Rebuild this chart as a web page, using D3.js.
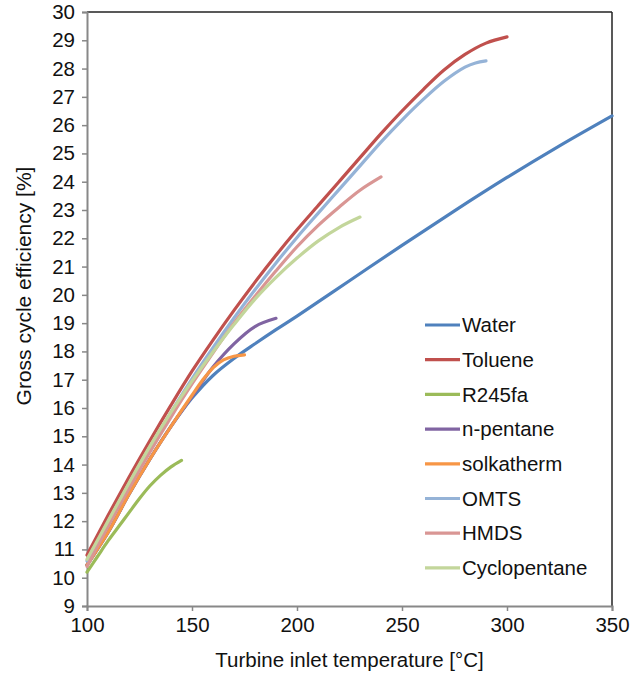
<!DOCTYPE html>
<html>
<head>
<meta charset="utf-8">
<script src="https://cdn.jsdelivr.net/npm/d3@7"></script>
<style>
    body { margin: 0; background: #fff; }
    svg text { font-family: "Liberation Sans", Arial, Helvetica, sans-serif; fill: #111; }
</style>
</head>
<body>
<svg id="chart" width="633" height="678"></svg>
<script>
// values
const seriesNames = ["Water", "Toluene", "R245fa", "n-pentane", "solkatherm", "OMTS", "HMDS", "Cyclopentane"];

const waterT = [100, 110, 120, 130, 140, 150, 160, 170, 180, 190, 200, 225, 250, 275, 300, 325, 350];
const waterEff = [10.45, 11.6, 12.95, 14.2, 15.35, 16.35, 17.15, 17.75, 18.27, 18.77, 19.25, 20.5, 21.75, 22.97, 24.15, 25.27, 26.33];

const tolueneT = [100, 110, 120, 130, 140, 150, 160, 170, 180, 190, 200, 210, 220, 230, 240, 250, 260, 270, 280, 290, 300];
const tolueneEff = [10.8, 12.2, 13.55, 14.85, 16.1, 17.3, 18.4, 19.45, 20.45, 21.4, 22.3, 23.15, 24.0, 24.85, 25.7, 26.5, 27.25, 27.95, 28.5, 28.9, 29.12];

const r245faT = [100, 105, 110, 115, 120, 125, 130, 135, 140, 145];
const r245faEff = [10.2, 10.75, 11.3, 11.8, 12.3, 12.8, 13.25, 13.62, 13.92, 14.15];

const pentaneT = [100, 110, 120, 130, 140, 150, 160, 170, 180, 190];
const pentaneEff = [10.45, 11.6, 12.95, 14.2, 15.35, 16.4, 17.45, 18.27, 18.88, 19.17];

const solkathermT = [100, 110, 120, 130, 140, 150, 155, 160, 165, 170, 175];
const solkathermEff = [10.45, 11.6, 12.95, 14.2, 15.35, 16.45, 16.98, 17.42, 17.7, 17.83, 17.88];

const omtsT = [100, 110, 120, 130, 140, 150, 160, 170, 180, 190, 200, 210, 220, 230, 240, 250, 260, 270, 280, 285, 290];
const omtsEff = [10.6, 11.95, 13.3, 14.6, 15.85, 17.03, 18.13, 19.18, 20.18, 21.13, 22.03, 22.88, 23.72, 24.56, 25.4, 26.18, 26.9, 27.55, 28.05, 28.2, 28.27];

const hmdsT = [100, 110, 120, 130, 140, 150, 160, 170, 180, 190, 200, 210, 220, 230, 240];
const hmdsEff = [10.4, 11.82, 13.15, 14.45, 15.68, 16.85, 17.95, 19.0, 19.95, 20.85, 21.7, 22.45, 23.1, 23.7, 24.17];

const cycloT = [100, 110, 120, 130, 140, 150, 160, 170, 180, 190, 200, 210, 220, 230];
const cycloEff = [10.65, 12.0, 13.35, 14.65, 15.85, 16.95, 17.98, 18.95, 19.85, 20.62, 21.3, 21.9, 22.38, 22.75];

const xTicks = [100, 150, 200, 250, 300, 350];
const yTicks = d3.range(9, 31);

const colors = {
    "Water": "#4F81BD",
    "Toluene": "#C0504D",
    "R245fa": "#9BBB59",
    "n-pentane": "#8064A2",
    "solkatherm": "#F79646",
    "OMTS": "#95B3D7",
    "HMDS": "#D99694",
    "Cyclopentane": "#C3D69B"
};

const seriesData = {
    "Water": [waterT, waterEff],
    "Toluene": [tolueneT, tolueneEff],
    "R245fa": [r245faT, r245faEff],
    "n-pentane": [pentaneT, pentaneEff],
    "solkatherm": [solkathermT, solkathermEff],
    "OMTS": [omtsT, omtsEff],
    "HMDS": [hmdsT, hmdsEff],
    "Cyclopentane": [cycloT, cycloEff]
};

let svg = d3.select("#chart"),
    margin = {top: 12, right: 21, bottom: 72, left: 87},
    width = +svg.attr("width") - margin.left - margin.right,
    height = +svg.attr("height") - margin.top - margin.bottom,
    g = svg.append("g").attr("transform", "translate(" + margin.left + "," + margin.top + ")");

let x = d3.scaleLinear().domain([100, 350]).range([0, width]);
let y = d3.scaleLinear().domain([9, 30]).range([height, 0]);

// frame: top and right black, left and bottom grey
g.append("line").attr("x1", 0).attr("x2", width).attr("y1", 0).attr("y2", 0)
    .attr("stroke", "#222").attr("stroke-width", 1.5);
g.append("line").attr("x1", width).attr("x2", width).attr("y1", 0).attr("y2", height)
    .attr("stroke", "#222").attr("stroke-width", 1.5);

let yAxis = g.append("g")
    .call(d3.axisLeft(y).tickValues(yTicks).tickSize(5).tickPadding(7));
let xAxis = g.append("g")
    .attr("transform", "translate(0," + height + ")")
    .call(d3.axisBottom(x).tickValues(xTicks).tickSize(5).tickPadding(7));

[yAxis, xAxis].forEach(ax => {
    ax.select(".domain").attr("stroke", "#888").attr("stroke-width", 2);
    ax.selectAll(".tick line").attr("stroke", "#888").attr("stroke-width", 1.5);
    ax.selectAll(".tick text").style("font-size", "20.5px").attr("fill", "#111");
});
xAxis.selectAll(".tick text").attr("dy", "0.68em");

let line = d3.line()
    .x(d => x(d[0]))
    .y(d => y(d[1]))
    .curve(d3.curveCatmullRom.alpha(0.5));

seriesNames.forEach(name => {
    let [ts, vs] = seriesData[name];
    g.append("path")
        .datum(ts.map((t, i) => [t, vs[i]]))
        .attr("fill", "none")
        .attr("stroke", colors[name])
        .attr("stroke-width", 3.2)
        .attr("stroke-linecap", "round")
        .attr("d", line);
});

// legend
let legend = svg.append("g").attr("transform", "translate(425,325)");
seriesNames.forEach((name, i) => {
    let row = legend.append("g").attr("transform", "translate(0," + (i * 34.7) + ")");
    row.append("line")
        .attr("x1", 0).attr("x2", 35)
        .attr("stroke", colors[name])
        .attr("stroke-width", 3.2);
    row.append("text")
        .attr("x", 37)
        .attr("dy", "0.35em")
        .style("font-size", "20.5px")
        .text(name);
});

svg.append("text")
    .attr("x", margin.left + width / 2)
    .attr("y", 667)
    .attr("text-anchor", "middle")
    .style("font-size", "20.5px")
    .text("Turbine inlet temperature [°C]");

svg.append("text")
    .attr("transform", "translate(31,286) rotate(-90)")
    .attr("text-anchor", "middle")
    .style("font-size", "21px")
    .text("Gross cycle efficiency [%]");
</script>
</body>
</html>
